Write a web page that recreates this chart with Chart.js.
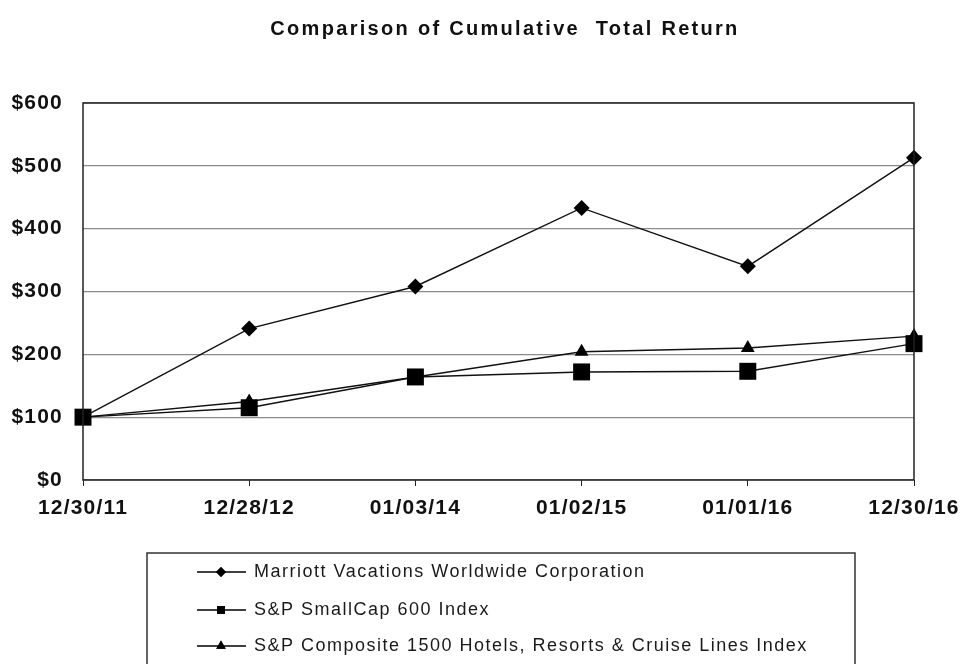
<!DOCTYPE html>
<html>
<head>
<meta charset="utf-8">
<script src="https://cdn.jsdelivr.net/npm/chart.js@4/dist/chart.umd.min.js"></script>
<style>
  html, body { margin: 0; padding: 0; background: #fff; }
  #wrap { width: 961px; height: 664px; position: relative; }
</style>
</head>
<body>
<div id="wrap"><canvas id="myChart" width="961" height="664"></canvas></div>
<script>
const dates = ["12/30/11", "12/28/12", "01/03/14", "01/02/15", "01/01/16", "12/30/16"];
const marriott = [100, 241, 308, 433, 340, 513];
const smallCap = [100, 115, 164, 172, 173, 217];
const hotels = [100, 125, 164, 204, 210, 229];
const yTicks = [0, 100, 200, 300, 400, 500, 600];

const chartTitle = "Comparison of Cumulative  Total Return";
const seriesNames = [
  "Marriott Vacations Worldwide Corporation",
  "S&P SmallCap 600 Index",
  "S&P Composite 1500 Hotels, Resorts & Cruise Lines Index"
];

const FONT = "'Liberation Sans', Arial, sans-serif";

// the original text is a bit wide, so space the letters out
const spacing = {
  id: "spacing",
  beforeLayout(chart) { chart.ctx.letterSpacing = "1.2px"; },
  beforeDraw(chart) { chart.ctx.letterSpacing = "1.2px"; }
};

// box round the plot area
const frame = {
  id: "frame",
  afterDraw(chart) {
    const { ctx, chartArea: a } = chart;
    ctx.save();
    ctx.strokeStyle = "#222";
    ctx.lineWidth = 1.5;
    ctx.strokeRect(a.left, a.top, a.right - a.left, a.bottom - a.top);
    ctx.restore();
  }
};

const topTitle = {
  id: "topTitle",
  afterDraw(chart) {
    const ctx = chart.ctx;
    ctx.save();
    ctx.letterSpacing = "2.3px";
    ctx.font = "bold 20px " + FONT;
    ctx.fillStyle = "#111";
    ctx.textAlign = "center";
    ctx.textBaseline = "middle";
    ctx.fillText(chartTitle, 505, 29);
    ctx.restore();
  }
};

// legend box under the chart, line + marker like the original
const boxLegend = {
  id: "boxLegend",
  afterDraw(chart) {
    const ctx = chart.ctx;
    ctx.save();
    ctx.strokeStyle = "#333";
    ctx.lineWidth = 1.5;
    ctx.strokeRect(147, 553, 708, 130);
    const rows = [572, 610, 646];
    const markerSizes = [5, 5.5, 5.5];
    chart.data.datasets.forEach((ds, i) => {
      const y = rows[i];
      ctx.strokeStyle = "#000";
      ctx.lineWidth = 1.3;
      ctx.beginPath();
      ctx.moveTo(197, y);
      ctx.lineTo(246, y);
      ctx.stroke();
      ctx.fillStyle = "#000";
      Chart.helpers.drawPoint(ctx, { pointStyle: ds.pointStyle, radius: markerSizes[i], borderWidth: 0 }, 221, y);
      ctx.fill();
      ctx.letterSpacing = "1.5px";
      ctx.font = "18px " + FONT;
      ctx.textBaseline = "middle";
      ctx.fillStyle = "#1a1a1a";
      ctx.fillText(ds.label, 254, y);
    });
    ctx.restore();
  }
};

const ctx = document.getElementById("myChart").getContext("2d");

new Chart(ctx, {
  type: "line",
  data: {
    labels: dates,
    datasets: [
      { label: seriesNames[0], data: marriott, pointStyle: "rectRot", pointRadius: 8 },
      { label: seriesNames[1], data: smallCap, pointStyle: "rect", pointRadius: 12 },
      { label: seriesNames[2], data: hotels, pointStyle: "triangle", pointRadius: 8 }
    ].map(ds => ({
      ...ds,
      borderColor: "#111",
      borderWidth: 1.4,
      backgroundColor: "#000",
      pointBackgroundColor: "#000",
      pointBorderColor: "#000",
      pointBorderWidth: 0,
      pointHoverRadius: ds.pointRadius,
      tension: 0
    }))
  },
  options: {
    responsive: false,
    animation: false,
    layout: { padding: { left: 0, right: 47, top: 103, bottom: 144 } },
    plugins: {
      legend: { display: false },
      tooltip: { enabled: false },
      title: { display: false }
    },
    scales: {
      x: {
        offset: false,
        grid: { drawOnChartArea: false, drawTicks: true, tickLength: 6, color: "#222" },
        border: { display: false },
        ticks: {
          padding: 10,
          color: "#111",
          maxRotation: 0,
          autoSkip: false,
          font: { family: FONT, size: 21, weight: "bold" }
        },
        afterFit(scale) {
          scale.height = 40;
          scale.paddingLeft = 0;
          scale.paddingRight = 0;
        }
      },
      y: {
        min: 0,
        max: 600,
        afterBuildTicks(scale) { scale.ticks = yTicks.map(v => ({ value: v })); },
        grid: { color: "#8c8c8c", lineWidth: 1.2, drawTicks: false },
        border: { display: false },
        ticks: {
          padding: 20,
          color: "#111",
          font: { family: FONT, size: 21, weight: "bold" },
          callback: v => "$" + v
        },
        afterFit(scale) { scale.width = 83; }
      }
    }
  },
  plugins: [spacing, frame, topTitle, boxLegend]
});
</script>
</body>
</html>
